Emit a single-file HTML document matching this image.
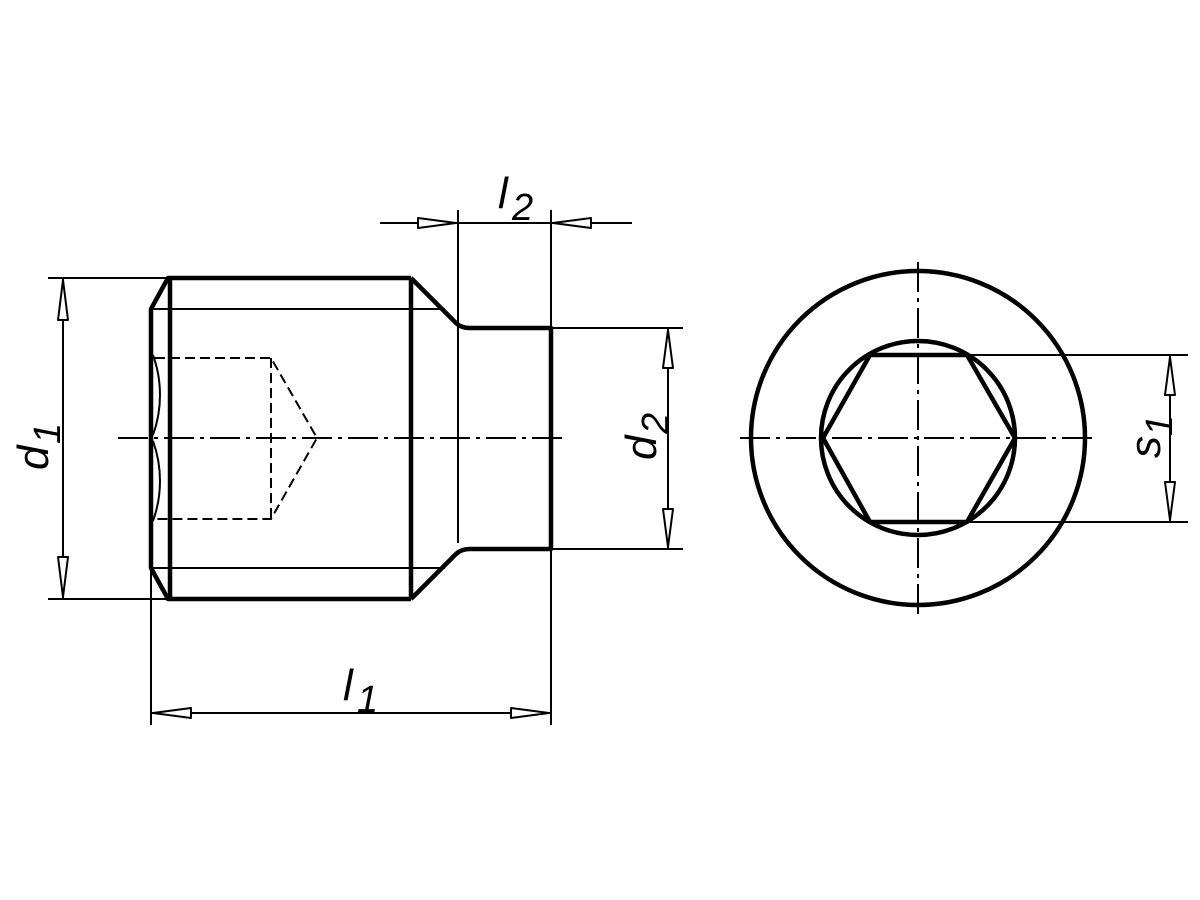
<!DOCTYPE html>
<html><head><meta charset="utf-8"><style>body{margin:0;background:#fff}svg{display:block}text{font-family:"Liberation Sans",sans-serif;font-style:italic;font-weight:300}</style></head>
<body>
<svg width="1200" height="900" viewBox="0 0 1200 900" xmlns="http://www.w3.org/2000/svg">
<g fill="none" stroke="#000" stroke-linejoin="round">
<g stroke-width="4.5">
<polyline points="411,278 168,278 151,309 151,568 168,599 411,599"/>
<line x1="170" y1="278" x2="170" y2="599"/>
<line x1="411" y1="278" x2="411" y2="599"/>
<path d="M411,278 L456,323 Q461,328 470,328 L551,328 L551,549 L470,549 Q461,549 456,554 L411,599"/>
<circle cx="918" cy="438" r="167"/>
<circle cx="918" cy="438" r="97"/>
<polygon points="823,438 870,355 967,355 1015,438 967,522 870,522"/>
</g>
<g stroke-width="2">
<line x1="151" y1="309" x2="445" y2="309"/>
<line x1="151" y1="568" x2="445" y2="568"/>
<path d="M153,355 A118,118 0 0 1 153,435 M153,441 A118,118 0 0 1 153,521"/>
<line x1="48" y1="278" x2="168" y2="278"/>
<line x1="48" y1="599" x2="168" y2="599"/>
<line x1="63" y1="278" x2="63" y2="599"/>
<line x1="551" y1="328" x2="683" y2="328"/>
<line x1="551" y1="549" x2="683" y2="549"/>
<line x1="668" y1="328" x2="668" y2="549"/>
<line x1="458" y1="210" x2="458" y2="543"/>
<line x1="551" y1="210" x2="551" y2="725"/>
<line x1="380" y1="223" x2="632" y2="223"/>
<line x1="151" y1="568" x2="151" y2="725"/>
<line x1="151" y1="713" x2="551" y2="713"/>
<line x1="967" y1="355" x2="1188" y2="355"/>
<line x1="967" y1="522" x2="1188" y2="522"/>
<line x1="1170" y1="355" x2="1170" y2="522"/>
<g stroke-dasharray="10,5">
<polyline points="155,358 271,358 317,438 271,519 155,519"/>
<line x1="271" y1="358" x2="271" y2="519"/>
</g>
<g stroke-dasharray="30,6,4,6">
<line x1="118" y1="438" x2="562" y2="438"/>
<line x1="740" y1="438" x2="1097" y2="438"/>
<line x1="918" y1="262" x2="918" y2="616"/>
</g>
</g>
<g stroke-width="2" fill="#fff">
<polygon points="63,280 58,320 68,320"/><polygon points="63,597 58,557 68,557"/>
<polygon points="668,330 663,368 673,368"/><polygon points="668,547 663,509 673,509"/>
<polygon points="456,223 418,218 418,228"/><polygon points="553,223 591,218 591,228"/>
<polygon points="153,713 191,708 191,718"/><polygon points="549,713 511,708 511,718"/>
<polygon points="1170,357 1165,395 1175,395"/><polygon points="1170,520 1165,482 1175,482"/>
</g>
</g>
<g fill="#000" font-size="44">
<text x="498" y="208">l</text><text x="512" y="220" font-size="38">2</text>
<text x="343" y="700">l</text><text x="357" y="712" font-size="38">1</text>
<g transform="translate(48,470) rotate(-90)"><text x="0" y="0">d</text><text x="26" y="12" font-size="38">1</text></g>
<g transform="translate(656,460) rotate(-90)"><text x="0" y="0">d</text><text x="26" y="12" font-size="38">2</text></g>
<g transform="translate(1160,458) rotate(-90)"><text x="0" y="0">s</text><text x="22" y="12" font-size="38">1</text></g>
</g>
</svg>
</body></html>
